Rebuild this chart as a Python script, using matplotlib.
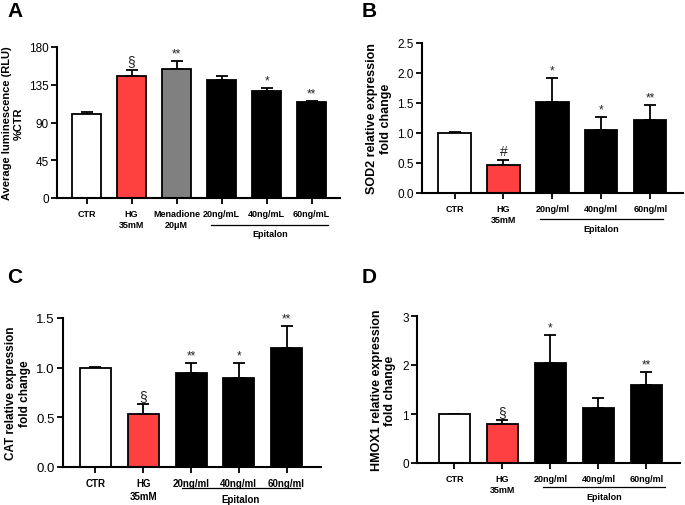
import matplotlib
matplotlib.use("Agg")
import matplotlib.pyplot as plt
import matplotlib.transforms as mtransforms

plt.rcParams['font.family'] = ['Liberation Sans', 'DejaVu Sans']

# ---- data ----
a_labels = ["CTR", "HG\n35mM", "Menadione\n20\u03bcM", "20ng/mL", "40ng/mL", "60ng/mL"]
a_values = [100, 146, 154, 141, 128, 114]
a_errors = [2, 7, 9, 4.5, 3.5, 2]
a_marks = ["", "\u00a7", "**", "", "*", "**"]

b_labels = ["CTR", "HG\n35mM", "20ng/ml", "40ng/ml", "60ng/ml"]
b_values = [1.0, 0.47, 1.51, 1.05, 1.22]
b_errors = [0.01, 0.08, 0.40, 0.21, 0.24]
b_marks = ["", "#", "*", "*", "**"]

c_labels = ["CTR", "HG\n35mM", "20ng/ml", "40ng/ml", "60ng/ml"]
c_values = [1.0, 0.53, 0.945, 0.90, 1.197]
c_errors = [0.005, 0.10, 0.10, 0.15, 0.22]
c_marks = ["", "\u00a7", "**", "*", "**"]

d_labels = ["CTR", "HG\n35mM", "20ng/ml", "40ng/ml", "60ng/ml"]
d_values = [1.0, 0.79, 2.045, 1.125, 1.59]
d_errors = [0.01, 0.08, 0.56, 0.20, 0.26]
d_marks = ["", "\u00a7", "*", "", "**"]

a_colors = ["white", "#FF4040", "#808080", "black", "black", "black"]
bcd_colors = ["white", "#FF4040", "black", "black", "black"]

fig = plt.figure(figsize=(6.85, 5.06), dpi=100)
W, H = 685, 506


def panel(rect_px, xlim, values, errors, colors, labels, marks, ylim, yticks,
          yticklabels, ylabel, letter, letter_xy, epi_range, line_off, text_off,
          xfs, width=0.65, yfs=8.5, ylfs=9):
    l, r, t, b = rect_px
    ax = fig.add_axes([l / W, 1 - b / H, (r - l) / W, (b - t) / H])
    x = list(range(len(values)))
    ax.bar(x, values, width=width, color=colors, edgecolor="black", linewidth=1.3, zorder=2)
    ax.errorbar(x, values, yerr=[[0] * len(errors), errors], fmt="none",
                ecolor="black", elinewidth=1.3, capsize=4, capthick=1.3, zorder=1)
    span = ylim[1] - ylim[0]
    for xi, v, e, m in zip(x, values, errors, marks):
        if m:
            fs = 10 if m in ("\u00a7", "#") else 8.5
            ax.text(xi, v + e + span * 0.01, m, ha="center", va="bottom",
                    fontsize=fs, color="#222222")
    ax.set_xlim(*xlim)
    ax.set_ylim(*ylim)
    ax.set_yticks(yticks)
    ax.set_yticklabels(yticklabels, fontsize=yfs)
    ax.set_xticks(x)
    ax.set_xticklabels(labels, fontsize=xfs, fontweight="bold", linespacing=1.3)
    ax.tick_params(axis="both", direction="out", length=4, width=1.3, pad=2)
    ax.tick_params(axis="x", pad=4)
    for s in ["top", "right"]:
        ax.spines[s].set_visible(False)
    for s in ["left", "bottom"]:
        ax.spines[s].set_linewidth(1.5)
    ax.set_ylabel(ylabel, fontsize=ylfs, fontweight="bold", linespacing=1.2)
    # Epitalon bracket
    hpx = b - t
    tr = mtransforms.blended_transform_factory(ax.transData, ax.transAxes)
    ax.plot(epi_range, [-line_off / hpx] * 2, color="black", lw=0.9,
            transform=tr, clip_on=False)
    ax.text(sum(epi_range) / 2, -text_off / hpx, "Epitalon", ha="center",
            va="center", fontsize=xfs, fontweight="bold", transform=tr)
    fig.text(letter_xy[0] / W, 1 - letter_xy[1] / H, letter, fontsize=15,
             fontweight="bold", ha="left", va="top")
    return ax


panel((57, 340, 48, 199), (-0.656, 5.63), a_values, a_errors, a_colors, a_labels,
      a_marks, (0, 180), [0, 45, 90, 135, 180], ["0", "45", "90", "135", "180"],
      "Average luminescence (RLU)\n%CTR", "A", (7, 2), (2.77, 5.37), 27, 36, 6.5,
      ylfs=8)

panel((422, 683, 44, 194), (-0.665, 4.67), b_values, b_errors, bcd_colors, b_labels,
      b_marks, (0, 2.5), [0, 0.5, 1.0, 1.5, 2.0, 2.5],
      ["0.0", "0.5", "1.0", "1.5", "2.0", "2.5"],
      "SOD2 relative expression\nfold change", "B", (362, 2), (1.75, 4.26), 26, 36, 6.5,
      width=0.66)

panel((63, 321, 319, 468), (-0.68, 4.72), c_values, c_errors, bcd_colors, c_labels,
      c_marks, (0, 1.5), [0, 0.5, 1.0, 1.5], ["0.0", "0.5", "1.0", "1.5"],
      "CAT relative expression\nfold change", "C", (7, 268), (1.81, 4.28), 21, 32, 7,
      yfs=9.5, ylfs=8.5)

panel((417, 680, 317, 464), (-0.78, 4.70), d_values, d_errors, bcd_colors, d_labels,
      d_marks, (0, 3), [0, 1, 2, 3], ["0", "1", "2", "3"],
      "HMOX1 relative expression\nfold change", "D", (362, 268), (1.84, 4.39), 24, 34, 6.5,
      width=0.63)

fig.savefig("out.png", dpi=100)
